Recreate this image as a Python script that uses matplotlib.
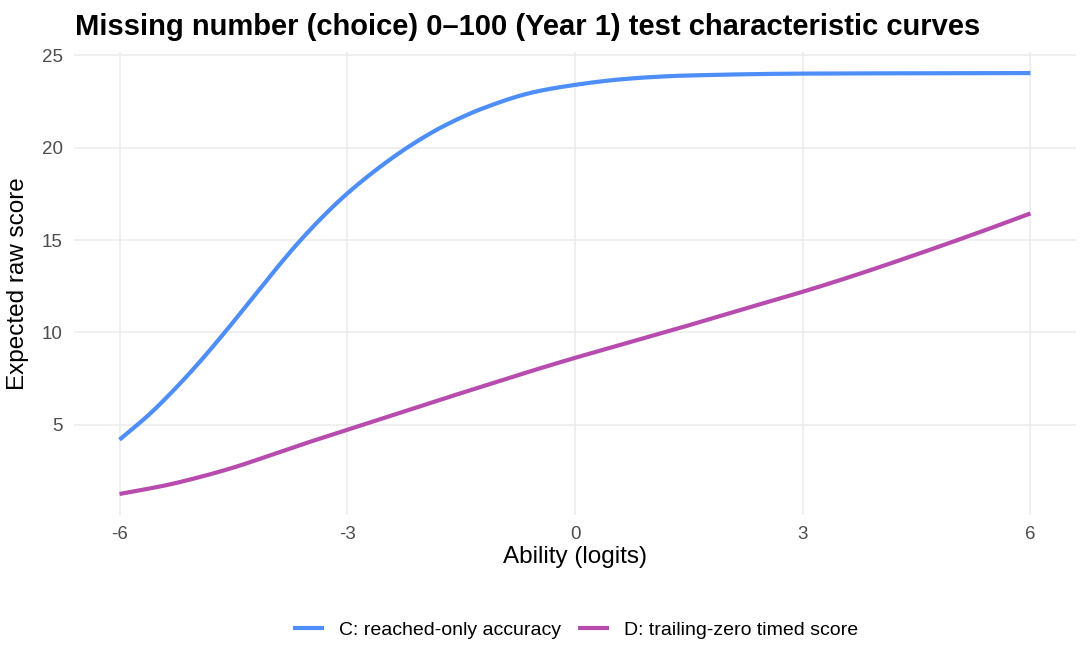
import matplotlib
matplotlib.use("Agg")
import matplotlib.pyplot as plt
import numpy as np

plt.rcParams['font.family'] = ['Liberation Sans', 'DejaVu Sans']

# values
ability_c = [-6.0, -5.6, -5.24, -4.94, -4.59, -4.28, -3.93, -3.62, -3.27, -3.0,
             -2.61, -2.17, -1.73, -1.2, -0.55, 0.0, 0.55, 1.0, 1.43, 3.0, 6.0]
score_c = [4.19, 5.59, 7.07, 8.42, 10.12, 11.70, 13.48, 14.97, 16.48, 17.52,
           18.83, 20.11, 21.17, 22.15, 23.0, 23.4, 23.68, 23.82, 23.9, 24.01, 24.04]

ability_d = [-6.0, -5.38, -4.94, -4.5, -4.06, -3.62, -3.0, -2.52, -1.86, -1.2,
             -0.55, 0.0, 0.55, 1.43, 2.31, 3.0, 3.62, 4.5, 5.38, 6.0]
score_d = [1.25, 1.73, 2.17, 2.68, 3.28, 3.90, 4.72, 5.36, 6.24, 7.10,
           7.94, 8.62, 9.26, 10.30, 11.37, 12.20, 13.00, 14.22, 15.5, 16.44]

series_labels = ["C: reached-only accuracy", "D: trailing-zero timed score"]
x_ticks = [-6, -3, 0, 3, 6]
y_ticks = [5, 10, 15, 20, 25]


def pchip(x, y, n=400):
    """Monotone cubic through the read-off points (display smoothing only)."""
    x = np.asarray(x, float)
    y = np.asarray(y, float)
    h = np.diff(x)
    d = np.diff(y) / h
    m = np.zeros_like(y)
    for k in range(1, len(x) - 1):
        if d[k - 1] * d[k] > 0:
            w1 = 2 * h[k] + h[k - 1]
            w2 = h[k] + 2 * h[k - 1]
            m[k] = (w1 + w2) / (w1 / d[k - 1] + w2 / d[k])
    m[0] = d[0]
    m[-1] = d[-1]
    xs = np.linspace(x[0], x[-1], n)
    idx = np.clip(np.searchsorted(x, xs) - 1, 0, len(x) - 2)
    t = (xs - x[idx]) / h[idx]
    h00 = 2 * t**3 - 3 * t**2 + 1
    h10 = t**3 - 2 * t**2 + t
    h01 = -2 * t**3 + 3 * t**2
    h11 = t**3 - t**2
    ys = (h00 * y[idx] + h10 * h[idx] * m[idx]
          + h01 * y[idx + 1] + h11 * h[idx] * m[idx + 1])
    return xs, ys


fig = plt.figure(figsize=(10.88, 6.72), dpi=100)
ax = fig.add_axes([0.068, 0.2336, 0.921, 0.689])

ax.plot(*pchip(ability_c, score_c), color="#4D8EF8", lw=3.0,
        solid_capstyle="butt", label=series_labels[0])
ax.plot(*pchip(ability_d, score_d), color="#B84CAE", lw=3.0,
        solid_capstyle="butt", label=series_labels[1])

lo = min(min(score_c), min(score_d))
hi = max(max(score_c), max(score_d))
pad = (hi - lo) * 0.05
ax.set_ylim(lo - pad, hi + pad)
ax.set_xlim(-6.6, 6.6)
ax.set_xticks(x_ticks)
ax.set_xticklabels([str(t) for t in x_ticks])
ax.set_yticks(y_ticks)

for s in ax.spines.values():
    s.set_visible(False)
ax.grid(True, color="#EBEBEB", lw=1.1)
ax.set_axisbelow(True)
ax.tick_params(length=0, labelsize=13.5, labelcolor="#4D4D4D", pad=8)

ax.set_xlabel("Ability (logits)", fontsize=17.5, labelpad=2)
ax.set_ylabel("Expected raw score", fontsize=17.5, labelpad=9)
fig.text(0.069, 0.96, "Missing number (choice) 0\u2013100 (Year 1) test characteristic curves",
         fontsize=21, fontweight="bold", ha="left", va="center")

fig.legend(loc="center", bbox_to_anchor=(0.529, 0.062), ncol=2, frameon=False,
           fontsize=14, handlelength=1.6, columnspacing=0.85, handletextpad=0.8)

fig.savefig("out.png", dpi=100)
